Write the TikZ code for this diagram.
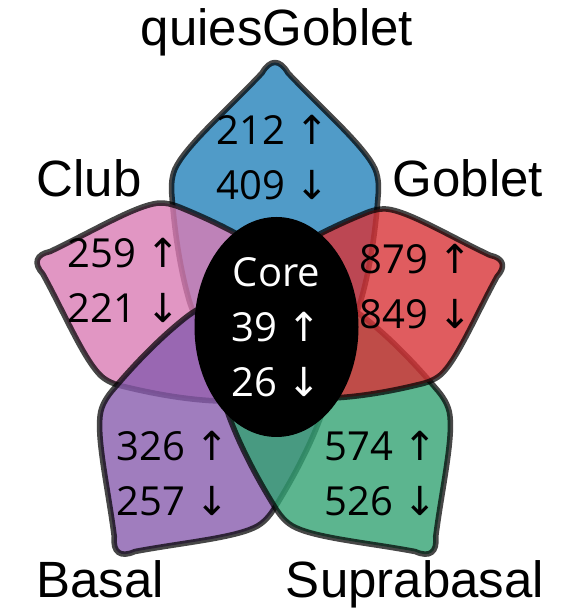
\documentclass[tikz,border=0pt]{standalone}
\usepackage{fontspec}
\setmainfont{Liberation Sans}
\newfontfamily\numfont{Open Sans}
\newfontfamily\arrfont{DejaVu Sans}
\usetikzlibrary{shapes.geometric}
\newcommand{\myup}{{\arrfont ↑}}
\newcommand{\mydown}{{\arrfont ↓}}
\newcommand{\petalpath}{(-13,264) .. controls (-5,278) and (5,278) .. (13,264)
  .. controls (45,230) and (85,195) .. (98,172)
  .. controls (104,162) and (104,150) .. (103,140)
  .. controls (100,100) and (94,65) .. (86,37)
  .. controls (75,0) and (40,-40) .. (0,-45)
  .. controls (-40,-40) and (-75,0) .. (-86,37)
  .. controls (-94,65) and (-100,100) .. (-103,140)
  .. controls (-104,150) and (-104,162) .. (-98,172)
  .. controls (-85,195) and (-45,230) .. (-13,264) -- cycle}
\definecolor{cblue}{HTML}{2482BA}
\definecolor{cpink}{HTML}{DA7CB4}
\definecolor{cpurple}{HTML}{885CAE}
\definecolor{cgreen}{HTML}{33A273}
\definecolor{cred}{HTML}{D83337}
\tikzset{
  petal/.style={fill=#1, fill opacity=0.8, draw=black, draw opacity=0.72, line width=5.5pt, line join=round},
  setlabel/.style={anchor=base, font=\fontsize{51}{60}\selectfont},
  count/.style={align=center, inner sep=0pt, font=\numfont\fontsize{40}{55}\selectfont},
}
\begin{document}
\begin{tikzpicture}[x=1pt, y=1pt]
\useasboundingbox (0,0) rectangle (568,609);
\begin{scope}[shift={(275,272)}]
  \path[petal=cblue] \petalpath;
  \begin{scope}[rotate=72, scale=0.91] \path[petal=cpink] \petalpath; \end{scope}
  \begin{scope}[rotate=144, scale=0.97] \path[petal=cpurple] \petalpath; \end{scope}
  \begin{scope}[rotate=216, scale=0.97] \path[petal=cgreen] \petalpath; \end{scope}
  \begin{scope}[rotate=288, scale=0.87] \path[petal=cred] \petalpath; \end{scope}
\end{scope}
\node[ellipse, fill=black, minimum width=164pt, minimum height=220pt, inner sep=0pt,
  text=white, align=center, font=\numfont\fontsize{40}{55}\selectfont] (core) at (276.5,282)
  {Core\\39 \myup\\26 \mydown};
\node[count] (nblue) at (273,451.5) {212 \myup\\409 \mydown};
\node[count] (npink) at (124,328.5) {259 \myup\\221 \mydown};
\node[count] (nred) at (416,322) {879 \myup\\849 \mydown};
\node[count] (npurple) at (173,135.5) {326 \myup\\257 \mydown};
\node[count] (ngreen) at (381,135.5) {574 \myup\\526 \mydown};
\node[setlabel] (lq) at (277,563) {quiesGoblet};
\node[setlabel] (lclub) at (89,412) {Club};
\node[setlabel] (lgob) at (468,412) {Goblet};
\node[setlabel] (lbas) at (100,12) {Basal};
\node[setlabel] (lsup) at (415,12) {Suprabasal};
\end{tikzpicture}
\end{document}
